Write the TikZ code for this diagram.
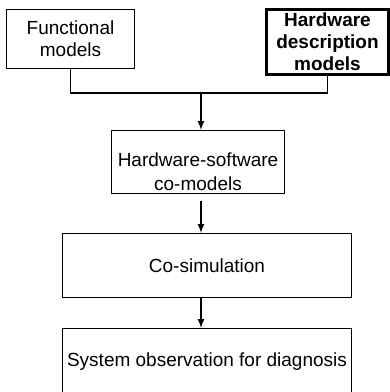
\documentclass[tikz,border=0pt]{standalone}
\usepackage{fontspec}
\setmainfont{Liberation Sans}
\usetikzlibrary{calc,arrows}

\begin{document}
\begin{tikzpicture}[x=1pt,y=-1pt,
                 box/.style={draw,line width=1.1pt,inner sep=0pt,align=center,font=\fontsize{19}{22}\selectfont},
                 flow/.style={-latex,line width=2pt}]
                 \useasboundingbox (0,0) rectangle (390,392);
                 \node[box,minimum width=128pt,minimum height=59pt](fm)at(70.5,39){Functional\\models};
                 \node[box,line width=2.6pt,minimum width=122pt,minimum height=64.5pt,font=\bfseries\fontsize{19}{22}\selectfont](hd)at(327.5,42){Hardware\\description\\models};
                 \node[box,minimum width=173pt,minimum height=63pt](hs)at(198,162){};
                 \node[align=center,inner sep=0pt,font=\fontsize{19}{24}\selectfont](hstext)at(198,172){Hardware-software\\co-models};
                 \node[box,minimum width=289pt,minimum height=64pt](cs)at(207,265.5){Co-simulation};
                 \node[box,minimum width=289pt,minimum height=67pt](so)at(207,362){System observation for diagnosis};
                 \coordinate(j)at(201,93);
                 \draw[line width=1.1pt](fm.south)--(fm.south|-j)--(hd.south|-j)--(hd.south);
                 \draw[flow](j)--(j|-hs.north);
                 \draw[flow,shorten <=7pt](j|-hs.south)--(j|-cs.north);
                 \draw[flow](j|-cs.south)--(j|-so.north);
               \end{tikzpicture}
\end{document}
